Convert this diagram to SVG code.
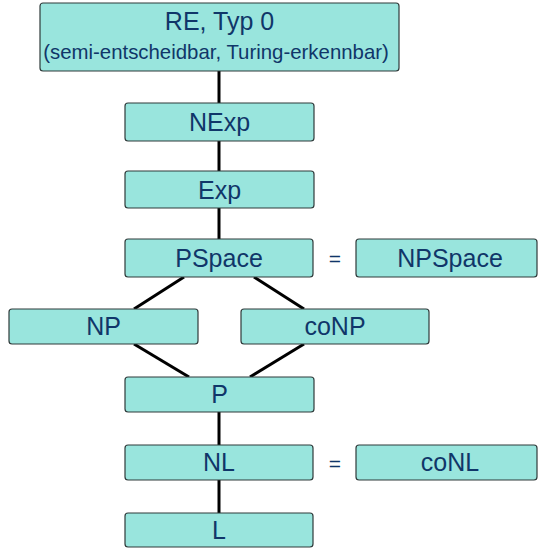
<svg xmlns="http://www.w3.org/2000/svg" width="538" height="548" viewBox="0 0 538 548">
  <style>
    .box { fill: #99e5dd; stroke: #2f3a3a; stroke-width: 1.2; }
    .lbl { font-family: "Liberation Sans", Arial, Helvetica, sans-serif; font-size: 25px; fill: #103669; text-anchor: middle; }
    .sub { font-size: 20.4px; }
    .eq { font-size: 21px; }
    .edge { stroke: #000; stroke-width: 3; fill: none; }
  </style>
  <rect width="538" height="548" fill="#ffffff"/>

  <!-- connectors -->
  <g id="connectors">
    <line class="edge" x1="219" y1="71" x2="219" y2="103"/>
    <line class="edge" x1="219" y1="141" x2="219" y2="171"/>
    <line class="edge" x1="219" y1="208" x2="219" y2="239"/>
    <line class="edge" x1="184" y1="277" x2="134" y2="309"/>
    <line class="edge" x1="254" y1="277" x2="304" y2="309"/>
    <line class="edge" x1="134" y1="344" x2="189" y2="377"/>
    <line class="edge" x1="304" y1="344" x2="250" y2="377"/>
    <line class="edge" x1="219" y1="412" x2="219" y2="445"/>
    <line class="edge" x1="219" y1="480" x2="219" y2="513"/>
  </g>

  <!-- complexity classes -->
  <g id="re">
    <rect class="box" x="40" y="3" width="359" height="68" rx="3"/>
    <text class="lbl" x="219.5" y="30">RE, Typ 0</text>
    <text class="lbl sub" x="216" y="59">(semi-entscheidbar, Turing-erkennbar)</text>
  </g>
  <g id="nexp">
    <rect class="box" x="125" y="103" width="189" height="38" rx="3"/>
    <text class="lbl" x="219.5" y="131">NExp</text>
  </g>
  <g id="exp">
    <rect class="box" x="125" y="171" width="189" height="37" rx="3"/>
    <text class="lbl" x="219.5" y="198.5">Exp</text>
  </g>
  <g id="pspace">
    <rect class="box" x="125" y="239" width="188" height="38" rx="3"/>
    <text class="lbl" x="219" y="266.5">PSpace</text>
  </g>
  <g id="eq1">
    <text class="lbl eq" x="335" y="266">=</text>
  </g>
  <g id="npspace">
    <rect class="box" x="356" y="239" width="181" height="38" rx="3"/>
    <text class="lbl" x="450" y="266.5">NPSpace</text>
  </g>
  <g id="np">
    <rect class="box" x="9" y="309" width="189" height="35" rx="3"/>
    <text class="lbl" x="103.5" y="335">NP</text>
  </g>
  <g id="conp">
    <rect class="box" x="241" y="309" width="188" height="35" rx="3"/>
    <text class="lbl" x="335" y="335">coNP</text>
  </g>
  <g id="p">
    <rect class="box" x="125" y="377" width="189" height="35" rx="3"/>
    <text class="lbl" x="219.5" y="403">P</text>
  </g>
  <g id="nl">
    <rect class="box" x="125" y="445" width="188" height="35" rx="3"/>
    <text class="lbl" x="219" y="471">NL</text>
  </g>
  <g id="eq2">
    <text class="lbl eq" x="335" y="471">=</text>
  </g>
  <g id="conl">
    <rect class="box" x="356" y="445" width="181" height="35" rx="3"/>
    <text class="lbl" x="450" y="471">coNL</text>
  </g>
  <g id="l">
    <rect class="box" x="125" y="513" width="188" height="34" rx="3"/>
    <text class="lbl" x="219" y="539">L</text>
  </g>
</svg>
